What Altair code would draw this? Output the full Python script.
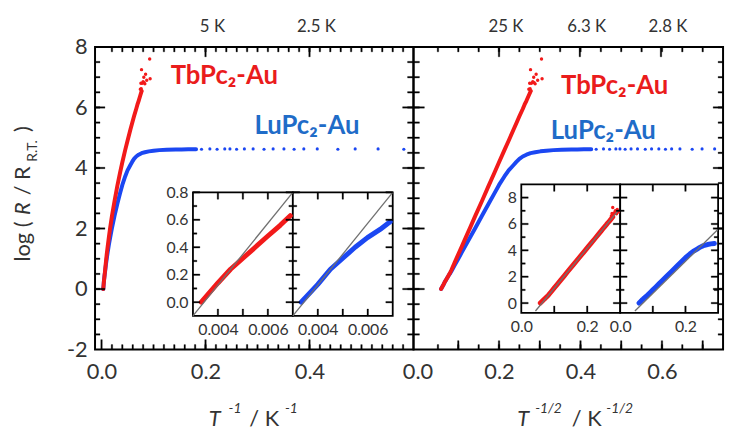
import altair as alt
import pandas as pd

# ---------------- values ----------------
# LuPc2-Au (blue): temperature in K and log(R/R_RT)
lu_T = [300, 250, 222, 200, 182, 167, 154, 145, 120, 100, 85, 70, 60, 50, 40, 33, 28, 25,
        22, 20, 18, 17, 16, 15, 14, 13, 12, 11, 10, 9, 8, 7, 6.5, 6, 5.5]
lu_logR = [0.0, 0.13, 0.24, 0.32, 0.40, 0.47, 0.53, 0.585, 0.79, 1.0, 1.21, 1.48, 1.71, 2.01, 2.42, 2.81, 3.17, 3.44,
           3.72, 3.92, 4.10, 4.20, 4.30, 4.38, 4.44, 4.49, 4.52, 4.55, 4.57, 4.59, 4.60, 4.61, 4.61, 4.62, 4.62]
# sparse low-temperature points of LuPc2-Au
lu_tail_T = [5.2, 4.8, 4.5, 4.22, 4.05, 3.85, 3.64, 3.43, 3.2, 3.03, 2.85, 2.7, 2.57, 2.41, 2.2, 2.05, 1.88, 1.72]
lu_tail_logR = [4.62, 4.63, 4.62, 4.63, 4.63, 4.62, 4.63, 4.63, 4.62, 4.63, 4.63, 4.62, 4.63, 4.63, 4.62, 4.63, 4.63, 4.62]
# TbPc2-Au (red)
tb_T = [300, 250, 222, 200, 182, 167, 154, 145, 120, 100, 85, 70, 60, 50, 40, 33, 28, 25,
        22, 20, 18, 17, 16, 15, 14.5, 14, 13.5, 13]
tb_logR = [0.0, 0.14, 0.24, 0.32, 0.40, 0.48, 0.56, 0.63, 0.88, 1.15, 1.40, 1.74, 2.03, 2.41, 2.91, 3.40, 3.85, 4.19,
           4.59, 4.90, 5.27, 5.48, 5.71, 5.95, 6.09, 6.22, 6.37, 6.53]
tb_scatter_T = [13.4, 13.2, 13.1, 13.0, 12.9, 12.8, 12.5, 12.3, 12.2, 12.0, 11.8, 11.5, 10.8, 10.7]
tb_scatter_logR = [6.6, 6.8, 6.62, 7.25, 6.55, 6.8, 6.85, 7.0, 6.82, 6.78, 7.1, 6.9, 7.6, 6.95]

# straight reference lines drawn in the insets (end points)
fit_invT_x = [0.003, 0.007]
fit_invT_y = [-0.1, 0.8]
fit_tb_sqrt_x = [0.043, 0.295]
fit_tb_sqrt_y = [-0.6, 7.05]
fit_lu_sqrt_x = [0.045, 0.30]
fit_lu_sqrt_y = [-0.6, 5.6]

# axis limits, tick labels
main_y_lim = [-2, 8]
left_x_lim = [-0.0125, 0.6]
right_x_lim = [-0.01, 0.75]
inset1_x_lim = [0.003, 0.007]
inset1_y_lim = [-0.1, 0.8]
inset2_x_lim = [0.0, 0.3]
inset2_y_lim = [-0.75, 9]

left_x_labels = [0.0, 0.2, 0.4]
right_x_labels = [0.0, 0.2, 0.4, 0.6]
main_y_labels = [-2, 0, 2, 4, 6, 8]
top_left_T = [5, 2.5]
top_left_text = ["5 K", "2.5 K"]
top_right_T = [25, 6.3, 2.8]
top_right_text = ["25 K", "6.3 K", "2.8 K"]
inset1_x_labels = [0.004, 0.006]
inset1_x_ticks = [0.004, 0.005, 0.006]
inset1_y_labels = [0.0, 0.2, 0.4, 0.6, 0.8]
inset1_y_minor = [0.1, 0.3, 0.5, 0.7]
inset2_x_labels = [0.0, 0.2]
inset2_x_ticks = [0.1, 0.2]
inset2_y_labels = [0, 2, 4, 6, 8]
inset2_y_minor = [1, 3, 5, 7]

series_names = ["TbPc₂-Au", "LuPc₂-Au"]
label_left_x = [0.133, 0.294]
label_left_y = [6.76, 5.12]
label_right_x = [0.352, 0.327]
label_right_y = [6.46, 4.96]

# ---------------- styling ----------------
FONT = "Lato"
RED = "#f21a1a"
BLUE = "#1b47f2"
RED_TXT = "#ea1c1c"
BLUE_TXT = "#1f6cc8"
GREY = "#707070"
TXT = "#333333"

W, H = 635, 306

# (domain, pixel range) of every sub-plot scale
S = {
    "LX": (left_x_lim, [0, 322]),
    "RX": (right_x_lim, [322, W]),
    "MY": (main_y_lim, [H, 0]),
    "I1A": (inset1_x_lim, [99, 200]),
    "I1B": (inset1_x_lim, [200, 301]),
    "I1Y": (inset1_y_lim, [272, 147]),
    "I2A": (inset2_x_lim, [431, 531]),
    "I2B": (inset2_x_lim, [531, 630]),
    "I2Y": (inset2_y_lim, [269, 139]),
}


def sc(name):
    lim, rng = S[name]
    return alt.Scale(domain=lim, range=rng, nice=False, zero=False)


def per_px(name):
    lim, rng = S[name]
    return (lim[1] - lim[0]) / abs(rng[1] - rng[0])


def lab_axis(orient, values, fmt, size, pad, offset=0, expr=None):
    kw = dict(orient=orient, values=values, format=fmt, ticks=False, tickSize=0, domain=False,
              grid=False, labelFont=FONT, labelFontSize=size, labelColor=TXT, labelPadding=pad,
              labelFlush=False, labelOverlap=False, offset=offset, title=None, zindex=2)
    if expr:
        kw["labelExpr"] = expr
    return alt.Axis(**kw)


def frame(xn, yn, xaxis=None, yaxis=None, fill=None, sw=2.0):
    xl, yl = S[xn][0], S[yn][0]
    df = pd.DataFrame({"x0": [xl[0]], "x1": [xl[1]], "y0": [yl[0]], "y1": [yl[1]]})
    if fill:
        m = alt.Chart(df).mark_rect(fill=fill, stroke="black", strokeWidth=sw)
    else:
        m = alt.Chart(df).mark_rect(fillOpacity=0, stroke="black", strokeWidth=sw)
    return m.encode(x=alt.X("x0:Q", scale=sc(xn), axis=xaxis), x2="x1:Q",
                    y=alt.Y("y0:Q", scale=sc(yn), axis=yaxis), y2="y1:Q")


def ticks(xn, yn, specs, width=1.5):
    """tick marks of one sub-plot as thin black bars; specs = (edge, values, length_px, both_sides)"""
    kx, ky = per_px(xn), per_px(yn)
    xl, yl = S[xn][0], S[yn][0]
    hx, hy = width / 2 * kx, width / 2 * ky
    rows = []
    for edge, vals, L, both in specs:
        for v in vals:
            if edge in ("bottom", "top"):
                e = yl[0] if edge == "bottom" else yl[1]
                d = L * ky
                a, b = (e - d, e + d) if both else ((e, e + d) if edge == "bottom" else (e - d, e))
                rows.append({"x0": v - hx, "x1": v + hx, "y0": a, "y1": b})
            else:
                e = xl[0] if edge == "left" else xl[1]
                d = L * kx
                a, b = (e - d, e + d) if both else ((e, e + d) if edge == "left" else (e - d, e))
                rows.append({"x0": a, "x1": b, "y0": v - hy, "y1": v + hy})
    return alt.Chart(pd.DataFrame(rows)).mark_rect(fill="black", stroke="black", strokeWidth=0.3).encode(
        x=alt.X("x0:Q", scale=sc(xn), axis=None), x2="x1:Q",
        y=alt.Y("y0:Q", scale=sc(yn), axis=None), y2="y1:Q")


def ptext(txt, x, y, size, angle=0, style="normal", weight="normal", align="left",
          baseline="alphabetic", color=TXT):
    df = pd.DataFrame({"t": [txt]})
    return alt.Chart(df).mark_text(font=FONT, fontSize=size, fontStyle=style, fontWeight=weight,
                                   align=align, baseline=baseline, angle=angle, color=color).encode(
        x=alt.value(x), y=alt.value(y), text="t:N")


def prep(T, logR):
    d = pd.DataFrame({"T": T, "logR": logR})
    d["u"] = 1.0 / d["T"]
    d["s"] = d["T"] ** -0.5
    return d


lu = prep(lu_T, lu_logR)
lu_tail = prep(lu_tail_T, lu_tail_logR)
tb = prep(tb_T, tb_logR)
tb_sc = prep(tb_scatter_T, tb_scatter_logR)


def curve(df, xf, xn, yn, color, width):
    return alt.Chart(df).transform_filter(f"datum.{xf} <= {S[xn][0][1]}").mark_line(
        color=color, strokeWidth=width, strokeCap="round", strokeJoin="round").encode(
        x=alt.X(f"{xf}:Q", scale=sc(xn), axis=None), y=alt.Y("logR:Q", scale=sc(yn), axis=None))


def dots(df, xf, xn, yn, color, size):
    return alt.Chart(df).transform_filter(f"datum.{xf} <= {S[xn][0][1]}").mark_circle(
        color=color, size=size, opacity=1).encode(
        x=alt.X(f"{xf}:Q", scale=sc(xn), axis=None), y=alt.Y("logR:Q", scale=sc(yn), axis=None))


def fitline(xs, ys, xn, yn):
    df = pd.DataFrame({"x": xs, "y": ys})
    return alt.Chart(df).mark_line(color=GREY, strokeWidth=1.3).encode(
        x=alt.X("x:Q", scale=sc(xn), axis=None), y=alt.Y("y:Q", scale=sc(yn), axis=None))


def series_labels(xs, ys, xn):
    df = pd.DataFrame({"x": xs, "y": ys, "t": series_names, "c": ["tb", "lu"]})
    return alt.Chart(df).mark_text(font=FONT, fontSize=26, fontWeight="bold", align="left",
                                   baseline="alphabetic").encode(
        x=alt.X("x:Q", scale=sc(xn), axis=None), y=alt.Y("y:Q", scale=sc("MY"), axis=None), text="t:N",
        color=alt.Color("c:N", scale=alt.Scale(domain=["tb", "lu"], range=[RED_TXT, BLUE_TXT]), legend=None))


def top_labels(Ts, texts, xf, xn):
    df = prep(Ts, [0] * len(Ts))
    df["t"] = texts
    return alt.Chart(df).mark_text(font=FONT, fontSize=17, color=TXT, baseline="middle", dx=7).encode(
        x=alt.X(f"{xf}:Q", scale=sc(xn), axis=None), y=alt.value(-20), text="t:N")


minus = "datum.value < 0 ? '-' + format(-datum.value, 'd') : format(datum.value, 'd')"

# tick positions
left_minor = [round(i * 0.02, 2) for i in range(1, 30)]
right_minor = [round(i * 0.05, 2) for i in range(1, 15)]
right_mid = [round(i * 0.1, 1) for i in range(1, 8)]
y_minor = [v / 2 for v in range(-3, 16)]
y_major = [0, 2, 4, 6]
top_left_major = [1 / t for t in top_left_T]
top_right_major = [t ** -0.5 for t in top_right_T]

layers = []
# main frames with their tick labels
layers.append(frame("LX", "MY",
                    xaxis=lab_axis("bottom", left_x_labels, ".1f", 22, 12),
                    yaxis=lab_axis("left", main_y_labels, "d", 22, 8, expr=minus)))
layers.append(frame("RX", "MY",
                    xaxis=lab_axis("bottom", right_x_labels, ".1f", 22, 12)))

# main data
layers += [
    curve(lu, "u", "LX", "MY", BLUE, 4),
    dots(lu_tail, "u", "LX", "MY", BLUE, 10),
    curve(tb, "u", "LX", "MY", RED, 4),
    dots(tb_sc, "u", "LX", "MY", RED, 12),
    curve(lu, "s", "RX", "MY", BLUE, 4),
    dots(lu_tail, "s", "RX", "MY", BLUE, 10),
    curve(tb, "s", "RX", "MY", RED, 4),
    dots(tb_sc, "s", "RX", "MY", RED, 12),
]

# inset 1 (T^-1)
layers += [
    frame("I1A", "I1Y", fill="white", sw=1.8,
          xaxis=lab_axis("bottom", inset1_x_labels, ".3f", 16, 6, offset=-(H - 272)),
          yaxis=lab_axis("left", inset1_y_labels, ".1f", 16, 5, offset=-99)),
    frame("I1B", "I1Y", fill="white", sw=1.8,
          xaxis=lab_axis("bottom", inset1_x_labels, ".3f", 16, 6, offset=-(H - 272))),
    curve(tb, "u", "I1A", "I1Y", RED, 5),
    curve(lu, "u", "I1B", "I1Y", BLUE, 5),
    fitline(fit_invT_x, fit_invT_y, "I1A", "I1Y"),
    fitline(fit_invT_x, fit_invT_y, "I1B", "I1Y"),
]

# inset 2 (T^-1/2)
layers += [
    frame("I2A", "I2Y", fill="white", sw=1.8,
          xaxis=lab_axis("bottom", inset2_x_labels, ".1f", 16, 6, offset=-(H - 269)),
          yaxis=lab_axis("left", inset2_y_labels, "d", 16, 5, offset=-431)),
    frame("I2B", "I2Y", fill="white", sw=1.8,
          xaxis=lab_axis("bottom", inset2_x_labels, ".1f", 16, 6, offset=-(H - 269))),
    curve(tb, "s", "I2A", "I2Y", RED, 5),
    dots(tb_sc, "s", "I2A", "I2Y", RED, 12),
    curve(lu, "s", "I2B", "I2Y", BLUE, 5),
    fitline(fit_tb_sqrt_x, fit_tb_sqrt_y, "I2A", "I2Y"),
    fitline(fit_lu_sqrt_x, fit_lu_sqrt_y, "I2B", "I2Y"),
]

# tick marks (inward), drawn after everything they sit on
layers += [
    ticks("LX", "MY", [
        ("bottom", left_minor, 5, False), ("bottom", left_x_labels, 10, False),
        ("top", left_minor, 5, False), ("top", top_left_major, 10, False),
        ("left", y_minor, 5, False), ("left", y_major, 10, False),
        ("right", y_minor, 6, True), ("right", y_major, 11, True),
    ]),
    ticks("RX", "MY", [
        ("bottom", right_minor, 5, False), ("bottom", right_mid, 9, False),
        ("top", right_minor, 5, False), ("top", top_right_major, 10, False),
        ("right", y_minor, 5, False), ("right", y_major, 10, False),
    ]),
    ticks("I1A", "I1Y", [
        ("bottom", inset1_x_ticks, 7, False), ("top", inset1_x_ticks, 7, False),
        ("left", inset1_y_labels, 7, False), ("left", inset1_y_minor, 4, False),
        ("right", inset1_y_labels, 7, True), ("right", inset1_y_minor, 4, True),
    ]),
    ticks("I1B", "I1Y", [
        ("bottom", inset1_x_ticks, 7, False), ("top", inset1_x_ticks, 7, False),
        ("right", inset1_y_labels, 7, False), ("right", inset1_y_minor, 4, False),
    ]),
    ticks("I2A", "I2Y", [
        ("bottom", inset2_x_ticks, 7, False), ("top", inset2_x_ticks, 7, False),
        ("left", inset2_y_labels, 7, False), ("left", inset2_y_minor, 4, False),
        ("right", inset2_y_labels, 7, True), ("right", inset2_y_minor, 4, True),
    ]),
    ticks("I2B", "I2Y", [
        ("bottom", inset2_x_ticks, 7, False), ("top", inset2_x_ticks, 7, False),
        ("right", inset2_y_labels, 7, False), ("right", inset2_y_minor, 4, False),
    ]),
]

# labels
layers += [
    series_labels(label_left_x, label_left_y, "LX"),
    series_labels(label_right_x, label_right_y, "RX"),
    top_labels(top_left_T, top_left_text, "u", "LX"),
    top_labels(top_right_T, top_right_text, "s", "RX"),
]

# axis titles built from pieces (italic symbols, sub/superscripts)
layers += [
    ptext("T", 115, 383, 22, style="italic"),
    ptext("-1", 135, 370, 14, style="italic"),
    ptext("/ K", 156, 383, 22),
    ptext("-1", 192, 370, 14, style="italic"),
    ptext("T", 427, 383, 22, style="italic"),
    ptext("-1/2", 445, 370, 14, style="italic"),
    ptext("/ K", 482, 383, 22),
    ptext("-1/2", 517, 370, 14, style="italic"),
    ptext("log (", -66, 217, 22, angle=270),
    ptext("R", -66, 170, 22, angle=270, style="italic"),
    ptext("/ R", -66, 150, 22, angle=270),
    ptext("R.T.", -59, 116, 14, angle=270),
    ptext(")", -66, 86, 22, angle=270),
]

chart = alt.layer(*layers).resolve_scale(x="independent", y="independent").properties(
    width=W, height=H,
    autosize=alt.AutoSizeParams(type="none"),
    padding={"left": 88, "top": 37, "right": 5, "bottom": 82},
).configure_view(stroke=None)

chart.save("out.html", embed_options={"renderer": "svg", "actions": False})
